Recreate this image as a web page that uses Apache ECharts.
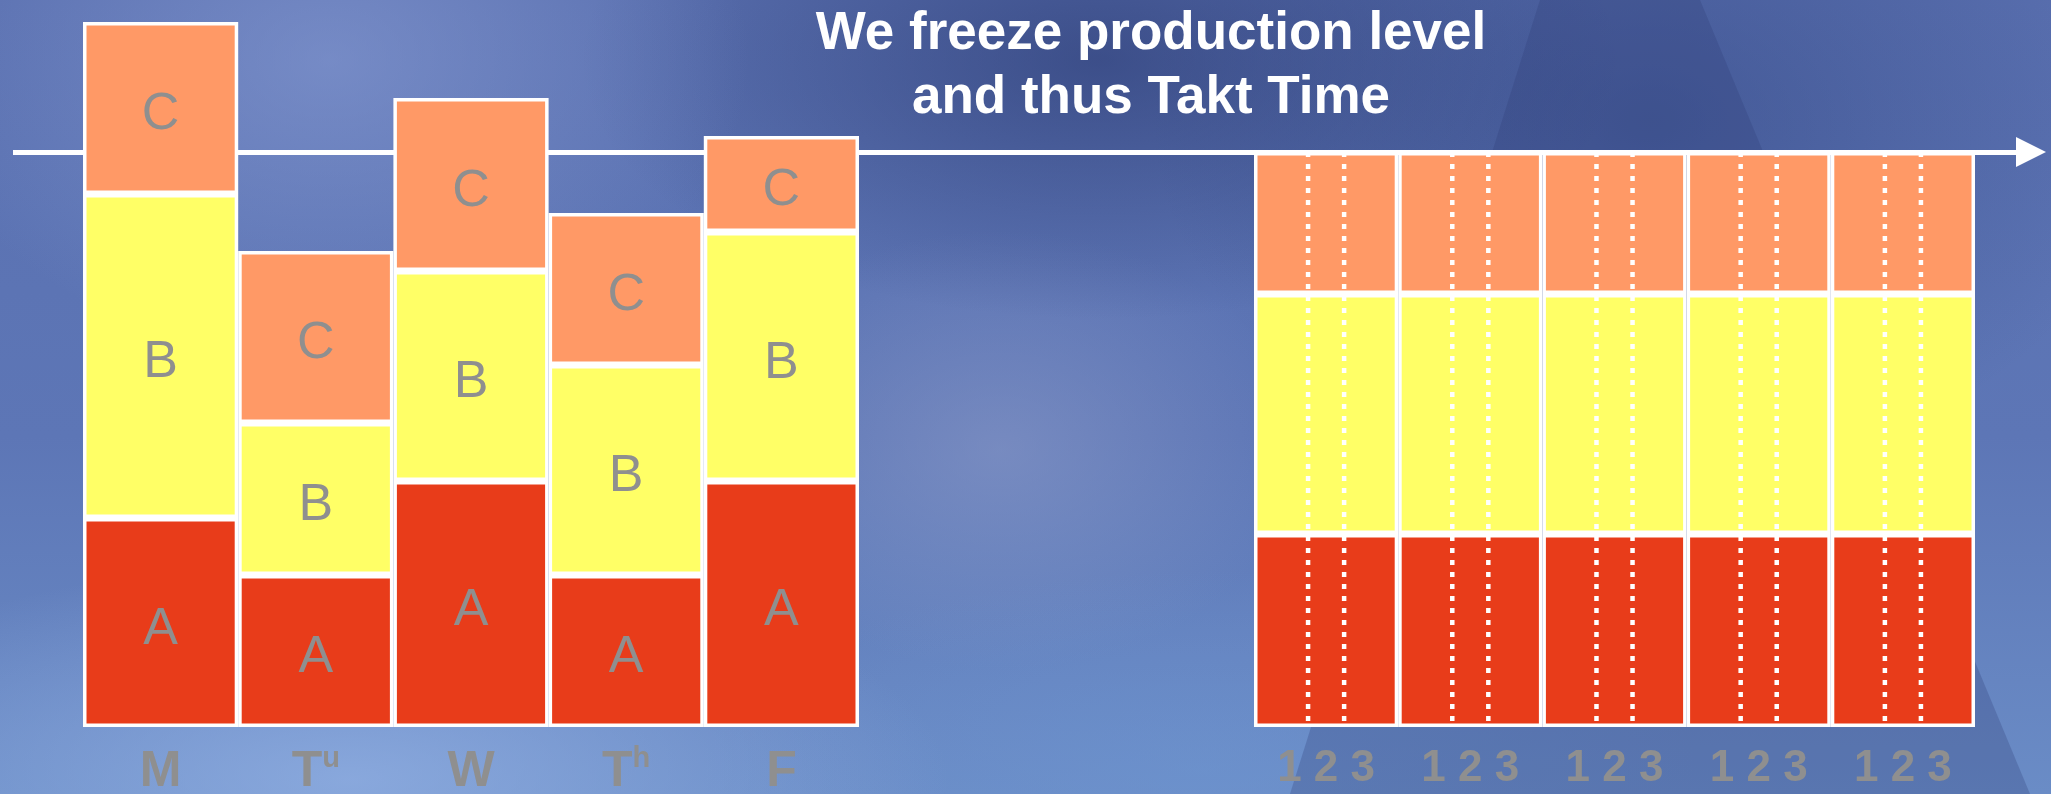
<!DOCTYPE html>
<html>
<head>
<meta charset="utf-8">
<script src="https://cdn.jsdelivr.net/npm/echarts@6/dist/echarts.min.js"></script>
<style>
  html, body { margin:0; padding:0; width:2051px; height:794px; overflow:hidden; }
  body {
    background:
      radial-gradient(ellipse 420px 300px at 330px 60px, rgba(140,160,215,0.55), rgba(140,160,215,0) 100%),
      radial-gradient(ellipse 520px 260px at 1100px 60px, rgba(35,50,105,0.55), rgba(35,50,105,0) 100%),
      radial-gradient(ellipse 500px 360px at 1650px 120px, rgba(40,60,120,0.45), rgba(40,60,120,0) 100%),
      radial-gradient(ellipse 600px 220px at 350px 780px, rgba(150,180,230,0.7), rgba(150,180,230,0) 100%),
      radial-gradient(ellipse 500px 200px at 1200px 770px, rgba(110,150,210,0.5), rgba(110,150,210,0) 100%),
      radial-gradient(ellipse 300px 220px at 1000px 450px, rgba(140,155,200,0.55), rgba(140,155,200,0) 100%),
      linear-gradient(180deg, #5a70b0 0%, #5d76b6 55%, #6a8cc6 100%);
  }
  #pyr {
    position:absolute; left:0; top:0; width:2051px; height:794px;
    background: rgba(45,60,120,0.28);
    clip-path: polygon(1540px 0px, 1700px 0px, 2030px 794px, 1290px 794px);
  }
  #chart { position:absolute; left:0; top:0; width:2051px; height:794px; }
</style>
</head>
<body>
<div id="pyr"></div>
<div id="chart"></div>
<script>
// ---------------- data ----------------
const days = ['M', 'Tu', 'W', 'Th', 'F'];
const productA = [209, 152, 246, 152, 246];
const productB = [324, 152, 210, 210, 249];
const productC = [172, 172, 173, 152, 96];
const leveledA = [193, 193, 193, 193, 193];
const leveledB = [240, 240, 240, 240, 240];
const leveledC = [142, 142, 142, 142, 142];
const slots = ['1', '2', '3'];
const titleLines = ['We freeze production level', 'and thus Takt Time'];

// ---------------- derived ----------------
const totals = days.map((d, i) => productA[i] + productB[i] + productC[i]);
const yMax = Math.max(...totals);
const levelTotal = leveledA[0] + leveledB[0] + leveledC[0];
// dividers between the 3 sub-slots of each day (fraction of a day band)
const dividerOffsets = [0.375, 0.625];
const dividers = [];
days.forEach((d, i) => dividerOffsets.forEach(o => dividers.push([i + o, 0, levelTotal])));

// ---------------- style ----------------
const COL_A = '#e83c1a', COL_B = '#ffff66', COL_C = '#ff9966';
const LABEL_GRAY = '#8f8f8f';
const FONT = "'Liberation Sans', Arial, Helvetica, sans-serif";

function barSeries(name, data, color, xi, yi) {
  return {
    type: 'bar', name: name, data: data, stack: 's' + xi,
    xAxisIndex: xi, yAxisIndex: yi,
    barWidth: '100%', z: 2,
    itemStyle: { color: color, borderColor: '#ffffff', borderWidth: 3.5 },
    label: xi === 0 ? {
      show: true, position: 'inside', formatter: name, offset: [0, 7],
      color: LABEL_GRAY, fontSize: 52, fontFamily: FONT, fontWeight: 'normal'
    } : { show: false },
    emphasis: { disabled: true },
    animation: false
  };
}

const chart = echarts.init(document.getElementById('chart'), null, { renderer: 'canvas' });
chart.setOption({
  backgroundColor: 'transparent',
  animation: false,
  title: {
    text: titleLines.join('\n'),
    left: 1146, top: -3, textAlign: 'center',
    textStyle: { color: '#ffffff', fontSize: 53, fontWeight: 'bold', fontFamily: FONT, lineHeight: 64 }
  },
  grid: [
    { left: 83, width: 776, top: 22, bottom: 67, outerBoundsMode: 'none', containLabel: false },
    { left: 1254, width: 721, top: 22, bottom: 67, outerBoundsMode: 'none', containLabel: false },
    { left: 13, right: 20, top: 22, bottom: 67, outerBoundsMode: 'none', containLabel: false }
  ],
  xAxis: [
    {
      type: 'category', data: days, gridIndex: 0,
      axisLine: { show: false }, axisTick: { show: false },
      axisLabel: {
        margin: 17, color: LABEL_GRAY, fontFamily: FONT,
        formatter: v => v.length > 1 ? '{m|' + v[0] + '}{s|' + v.slice(1) + '}' : '{m|' + v + '}',
        rich: {
          m: { fontSize: 50, fontWeight: 'bold', color: LABEL_GRAY, fontFamily: FONT, lineHeight: 56 },
          s: { fontSize: 29, fontWeight: 'bold', color: LABEL_GRAY, fontFamily: FONT, verticalAlign: 'top', lineHeight: 30, padding: [0, 0, 18, 0] }
        }
      }
    },
    {
      type: 'category', data: days, gridIndex: 1,
      axisLine: { show: false }, axisTick: { show: false },
      axisLabel: {
        margin: 20, color: LABEL_GRAY, fontSize: 44, fontWeight: 'bold', fontFamily: FONT,
        formatter: () => slots.join(' ')
      }
    },
    { type: 'value', gridIndex: 1, min: 0, max: days.length, show: false },
    { type: 'value', gridIndex: 2, min: 0, max: 1, show: false }
  ],
  yAxis: [
    { type: 'value', gridIndex: 0, min: 0, max: yMax, show: false },
    { type: 'value', gridIndex: 1, min: 0, max: yMax, show: false },
    { type: 'value', gridIndex: 2, min: 0, max: yMax, show: false }
  ],
  series: [
    barSeries('A', productA, COL_A, 0, 0),
    barSeries('B', productB, COL_B, 0, 0),
    barSeries('C', productC, COL_C, 0, 0),
    barSeries('A', leveledA, COL_A, 1, 1),
    barSeries('B', leveledB, COL_B, 1, 1),
    barSeries('C', leveledC, COL_C, 1, 1),
    {
      type: 'custom', xAxisIndex: 2, yAxisIndex: 1, z: 4, data: dividers,
      renderItem: (params, api) => {
        const p1 = api.coord([api.value(0), api.value(1)]);
        const p2 = api.coord([api.value(0), api.value(2)]);
        return {
          type: 'line',
          shape: { x1: p1[0], y1: p2[1], x2: p2[0], y2: p1[1] },
          style: { stroke: '#ffffff', lineWidth: 4.5, lineDash: [5, 7], fill: null }
        };
      },
      silent: true, animation: false
    },
    {
      type: 'line', xAxisIndex: 3, yAxisIndex: 2, data: [], silent: true,
      markLine: {
        silent: true, z: 1, animation: false,
        symbol: ['none', 'triangle'], symbolSize: [30, 30],
        label: { show: false },
        lineStyle: { color: '#ffffff', width: 5, type: 'solid' },
        emphasis: { disabled: true },
        data: [{ yAxis: levelTotal }]
      }
    }
  ]
});
</script>
</body>
</html>
